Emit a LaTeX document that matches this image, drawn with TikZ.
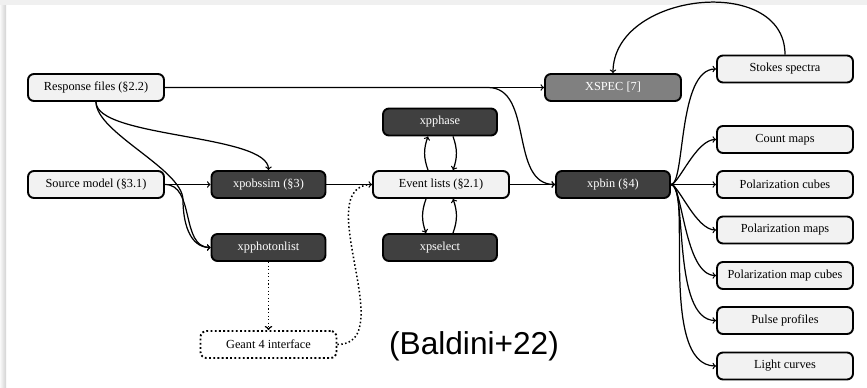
\documentclass[tikz,border=0pt]{standalone}
\usepackage{fontspec}
\setmainfont{Liberation Serif}
\newfontfamily\creditfont{Liberation Sans}
\usetikzlibrary{calc}

\tikzset{
  box/.style={draw, line width=1.6pt, rounded corners=1.8mm, minimum height=8.1mm,
    inner sep=1pt, font=\fontsize{10.5}{12}\selectfont},
  lightbox/.style={box, fill=gray!10, minimum width=40.8mm},
  darkbox/.style={box, fill=black!75, text=white, minimum width=34.2mm},
  greybox/.style={box, fill=black!50, text=white, minimum width=40.8mm},
  dotbox/.style={box, dotted, fill=white, minimum width=40.8mm},
  flow/.style={->, line width=1.05pt},
  dotflow/.style={flow, dotted, line width=1.3pt},
}

\begin{document}
\begin{tikzpicture}[x=0.3mm, y=-0.3mm]
\useasboundingbox (0,0) rectangle (867,388);
% Page frame
\fill[gray!12] (0,0) rectangle (867,5);
\fill[left color=gray!5, right color=gray!35] (0,5) rectangle (6,388);

% Inputs and tools
\node[lightbox] (resp) at (96,87.5) {Response files (§2.2)};
\node[lightbox] (src) at (96,184.5) {Source model (§3.1)};
\node[darkbox] (obssim) at (268.5,184.5) {xpobssim (§3)};
\node[darkbox] (photon) at (268.5,247.5) {xpphotonlist};
\node[dotbox] (geant) at (268.5,344.5) {Geant 4 interface};
\node[darkbox] (phase) at (440,122) {xpphase};
\node[lightbox] (events) at (441,184.5) {Event lists (§2.1)};
\node[darkbox] (select) at (440,247.5) {xpselect};
\node[greybox] (xspec) at (613,87.5) {XSPEC [7]};
\node[darkbox] (xpbin) at (613,184.5) {xpbin (§4)};

% Output products
\foreach \name/\y/\txt in {stokes/69/Stokes spectra, cmap/139.5/Count maps,
    pcube/184.5/Polarization cubes, pmap/230/Polarization maps,
    pmcube/275.5/Polarization map cubes, pulse/320.5/Pulse profiles,
    lcurve/366/Light curves}
  \node[lightbox] (\name) at (785,\y) {\txt};

% Connections
\coordinate (split) at (488,87.5);
\coordinate (bend) at (183,200);
\draw[flow] (resp) -- (xspec);
\draw[flow] (resp.east) -- (split) to[out=0,in=180] (xpbin.west);
\draw[flow] (resp.south) to[out=-90,in=90,looseness=0.5] (obssim.north);
\draw[flow] (resp.south) to[out=-90,in=90,looseness=0.6] (bend)
  to[out=-90,in=180] (photon.west);
\draw[flow] (src) -- (obssim);
\draw[flow] (src.east) to[out=0,in=180] (photon.west);
\draw[flow] (obssim) -- (events);
\draw[dotflow] (photon) -- (geant);
\draw[dotted, line width=1.3pt] (geant.east) to[out=0,in=180] (events.west);
\draw[flow] (events) -- (xpbin);

% Event list filters
\draw[flow] ($(events.north)+(-13,0)$) to[bend left=20] ($(phase.south)+(-12,0)$);
\draw[flow] ($(phase.south)+(13,0)$) to[bend left=20] ($(events.north)+(12,0)$);
\draw[flow] ($(events.south)+(-15,0)$) to[bend right=20] ($(select.north)+(-14,0)$);
\draw[flow] ($(select.north)+(13,0)$) to[bend right=20] ($(events.south)+(12,0)$);

% Binned products
\foreach \name in {stokes, cmap, pcube, pmap, pmcube, pulse, lcurve}
  \draw[flow] (xpbin.east) to[out=0,in=180,out looseness=0.3,in looseness=0.8] (\name.west);
\draw[flow] (stokes.north) to[out=90,in=90,looseness=1.2] (xspec.north);

% Credit
\node[font=\creditfont\fontsize{27}{30}\selectfont] (credit) at (474,346) {(Baldini+22)};
\end{tikzpicture}
\end{document}
